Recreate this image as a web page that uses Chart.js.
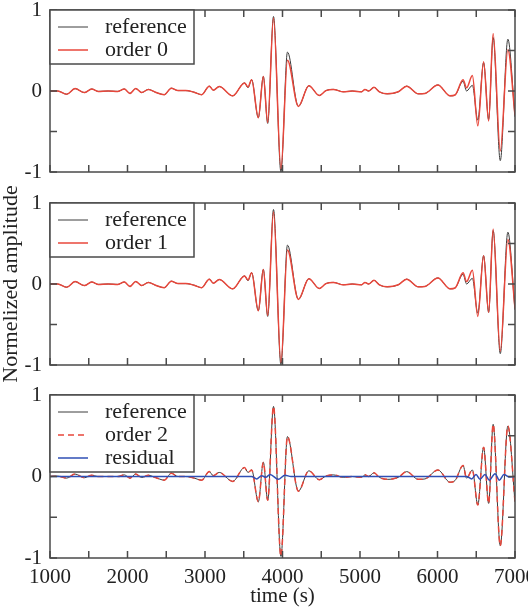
<!DOCTYPE html>
<html>
<head>
<meta charset="utf-8">
<script src="https://cdn.jsdelivr.net/npm/chart.js@4.4.1/dist/chart.umd.min.js"></script>
<style>
  body { margin: 0; background: #fff; }
  .panel { position: absolute; left: 0; width: 528px; }
</style>
</head>
<body>
<div class="panel" style="top:0;height:190px"><canvas id="p1"></canvas></div>
<div class="panel" style="top:380px;height:229px"><canvas id="p3"></canvas></div>
<!-- middle panel is taller so the shared y title fits; its canvas is transparent -->
<div class="panel" style="top:170px;height:230px"><canvas id="p2"></canvas></div>
<script>
// sample times (s) of the traced waveform extrema
const times = [1000, 1100, 1215, 1323, 1443, 1538, 1620, 1750, 1877, 1959,
  2032, 2106, 2183, 2269, 2360, 2475, 2565, 2650, 2750, 2860,
  2957, 3055, 3107, 3184, 3357, 3510, 3555, 3602, 3688, 3753,
  3809, 3884, 3980, 4064, 4205, 4340, 4475, 4560, 4656, 4785,
  4900, 5022, 5064, 5110, 5181, 5250, 5352, 5494, 5602, 5752,
  5838, 6005, 6161, 6226, 6330, 6375, 6450, 6520, 6595, 6660,
  6718, 6810, 6908, 7000];

// panels 1 and 2
const reference = [0, 0, -0.04, 0.03, -0.02, 0.025, -0.005, 0, -0.005, 0.025,
  -0.03, 0.03, -0.02, 0.02, -0.015, -0.045, 0.035, 0.005, 0.005, -0.015,
  -0.045, 0.06, 0.01, 0.055, -0.06, 0.10, 0.04, 0.14, -0.33, 0.18,
  -0.40, 0.92, -1.0, 0.48, -0.19, 0.065, -0.055, 0.005, 0.02, -0.01,
  0, -0.01, 0.02, 0, 0.045, -0.01, -0.035, -0.01, 0.06, -0.035,
  -0.03, 0.075, -0.06, -0.05, 0.12, 0.0, 0.07, -0.36, 0.35, -0.35,
  0.66, -0.86, 0.64, -0.32];

const order0 = [0, 0, -0.04, 0.03, -0.02, 0.025, -0.005, 0, -0.005, 0.025,
  -0.03, 0.03, -0.02, 0.02, -0.015, -0.045, 0.035, 0.005, 0.005, -0.015,
  -0.045, 0.06, 0.01, 0.055, -0.06, 0.10, 0.05, 0.14, -0.33, 0.18,
  -0.39, 0.90, -0.96, 0.38, -0.19, 0.065, -0.055, 0.005, 0.02, -0.01,
  0, -0.01, 0.02, 0, 0.045, -0.01, -0.035, -0.01, 0.06, -0.035,
  -0.03, 0.075, -0.06, -0.05, 0.14, 0.04, 0.19, -0.43, 0.36, -0.37,
  0.71, -0.74, 0.51, -0.30];

const order1 = [0, 0, -0.04, 0.03, -0.02, 0.025, -0.005, 0, -0.005, 0.025,
  -0.03, 0.03, -0.02, 0.02, -0.015, -0.045, 0.035, 0.005, 0.005, -0.015,
  -0.045, 0.06, 0.01, 0.055, -0.06, 0.10, 0.05, 0.14, -0.33, 0.18,
  -0.39, 0.89, -0.97, 0.42, -0.19, 0.065, -0.055, 0.005, 0.02, -0.01,
  0, -0.01, 0.02, 0, 0.045, -0.01, -0.035, -0.01, 0.06, -0.035,
  -0.03, 0.075, -0.06, -0.05, 0.14, 0.03, 0.17, -0.40, 0.35, -0.35,
  0.68, -0.83, 0.55, -0.30];

// panel 3 (order 2 lies on top of the reference)
const reference3 = [0, 0.005, -0.02, 0.03, -0.015, 0.015, 0, 0, 0, 0.02,
  -0.02, 0.03, -0.012, 0.015, -0.012, -0.045, 0.04, 0, 0, -0.02,
  -0.045, 0.06, 0.01, 0.05, -0.06, 0.11, 0.05, 0.08, -0.31, 0.175,
  -0.29, 0.86, -0.98, 0.49, -0.18, 0.07, -0.04, 0.005, 0.02, -0.01,
  0, -0.01, 0.02, 0, 0.045, -0.01, -0.035, -0.01, 0.06, -0.035,
  -0.03, 0.08, -0.07, -0.05, 0.135, -0.02, 0.08, -0.35, 0.36, -0.33,
  0.64, -0.85, 0.62, -0.31];

const order2 = [0, 0.005, -0.02, 0.03, -0.015, 0.015, 0, 0, 0, 0.02,
  -0.02, 0.03, -0.012, 0.015, -0.012, -0.045, 0.04, 0, 0, -0.02,
  -0.045, 0.06, 0.01, 0.05, -0.06, 0.11, 0.05, 0.08, -0.31, 0.175,
  -0.29, 0.86, -0.98, 0.49, -0.18, 0.07, -0.04, 0.005, 0.02, -0.01,
  0, -0.01, 0.02, 0, 0.045, -0.01, -0.035, -0.01, 0.06, -0.035,
  -0.03, 0.08, -0.07, -0.05, 0.135, -0.02, 0.08, -0.35, 0.36, -0.33,
  0.64, -0.85, 0.62, -0.31];

const residualTimes = [1000, 3600, 3667, 3731, 3785, 3839, 3946, 4032, 4110, 6376,
  6441, 6497, 6548, 6613, 6669, 6742, 6798, 6858, 6920, 7000];
const residual = [0, 0, -0.03, 0.01, -0.01, 0.025, -0.035, 0.015, 0, 0,
  -0.03, 0.025, -0.035, 0.025, -0.045, 0.035, -0.045, 0.025, -0.005, 0];

const SERIF = '"Liberation Serif", "Times New Roman", serif';
const RED = '#e8473b', BLACK = '#3c3c3c', BLUE = '#2f4fb5', INK = '#222';

function pts(xs, ys) {
  return xs.map((x, i) => ({ x: x, y: ys[i] }));
}

// frame, inward ticks on all four sides, and the boxed legend
const frame = {
  id: 'frame',
  afterDraw(chart) {
    const ctx = chart.ctx, a = chart.chartArea;
    const x = chart.scales.x, y = chart.scales.y;
    ctx.save();
    ctx.strokeStyle = '#4a4a4a';
    ctx.lineWidth = 1.5;
    ctx.beginPath();
    x.ticks.forEach(t => {
      const px = x.getPixelForValue(t.value);
      ctx.moveTo(px, a.bottom); ctx.lineTo(px, a.bottom - 7);
      ctx.moveTo(px, a.top); ctx.lineTo(px, a.top + 7);
    });
    y.ticks.forEach(t => {
      const py = y.getPixelForValue(t.value);
      ctx.moveTo(a.left, py); ctx.lineTo(a.left + 7, py);
      ctx.moveTo(a.right, py); ctx.lineTo(a.right - 7, py);
    });
    ctx.stroke();
    ctx.strokeRect(a.left, a.top, a.right - a.left, a.bottom - a.top);

    const sets = chart.data.datasets;
    const h = 8 + sets.length * 23;
    ctx.fillStyle = '#fff';
    ctx.fillRect(a.left, a.top, 144, h);
    ctx.strokeRect(a.left, a.top, 144, h);
    ctx.font = '22px ' + SERIF;
    ctx.textBaseline = 'middle';
    sets.forEach((ds, i) => {
      const ly = a.top + 17 + i * 23;
      ctx.strokeStyle = ds.borderColor;
      ctx.lineWidth = ds.borderWidth;
      ctx.setLineDash(ds.borderDash || []);
      ctx.beginPath();
      ctx.moveTo(a.left + 8, ly);
      ctx.lineTo(a.left + 38, ly);
      ctx.stroke();
      ctx.setLineDash([]);
      ctx.fillStyle = INK;
      ctx.fillText(ds.label, a.left + 55, ly);
    });
    ctx.restore();
  }
};

function panel(id, datasets, pad, last, yTitle) {
  const font = { family: SERIF, size: 21 };
  return new Chart(document.getElementById(id), {
    type: 'line',
    data: { datasets: datasets },
    options: {
      responsive: true,
      maintainAspectRatio: false,
      animation: false,
      layout: { padding: pad },
      elements: {
        point: { radius: 0 },
        line: { cubicInterpolationMode: 'monotone' }
      },
      plugins: { legend: { display: false }, tooltip: { enabled: false } },
      scales: {
        x: {
          type: 'linear', min: 1000, max: 7000,
          grid: { display: false, drawTicks: false },
          border: { display: false },
          ticks: {
            display: last, stepSize: 500, autoSkip: false, maxRotation: 0,
            padding: 7, font: font, color: INK,
            callback: v => (v % 1000 === 0 ? String(v) : '')
          },
          title: { display: last, text: 'time (s)', font: font, color: INK, padding: 0 },
          afterFit: s => { s.height = last ? 51 : 0; s.paddingLeft = 0; s.paddingRight = 0; }
        },
        y: {
          min: -1, max: 1,
          grid: { display: false, drawTicks: false },
          border: { display: false },
          ticks: {
            stepSize: 0.5, autoSkip: false, padding: 8, font: font, color: INK,
            callback: v => (Number.isInteger(v) ? String(v) : '')
          },
          title: {
            display: !!yTitle, text: yTitle || '', color: INK, padding: 0,
            font: { family: SERIF, size: 22, lineHeight: 1 }
          },
          afterFit: s => { s.width = 50; s.paddingTop = 0; s.paddingBottom = 0; }
        }
      }
    },
    plugins: [frame]
  });
}

panel('p1', [
  { label: 'reference', data: pts(times, reference), borderColor: BLACK, borderWidth: 1, order: 2 },
  { label: 'order 0', data: pts(times, order0), borderColor: RED, borderWidth: 1.5, order: 1 }
], { top: 10, right: 13, bottom: 18, left: 0 }, false);

panel('p2', [
  { label: 'reference', data: pts(times, reference), borderColor: BLACK, borderWidth: 1, order: 2 },
  { label: 'order 1', data: pts(times, order1), borderColor: RED, borderWidth: 1.5, order: 1 }
], { top: 33, right: 13, bottom: 35, left: 0 }, false, 'Normelized amplitude');

panel('p3', [
  { label: 'reference', data: pts(times, reference3), borderColor: BLACK, borderWidth: 1, order: 3 },
  { label: 'order 2', data: pts(times, order2), borderColor: RED, borderWidth: 1.5, borderDash: [6, 4], order: 2 },
  { label: 'residual', data: pts(residualTimes, residual), borderColor: BLUE, borderWidth: 1.5, order: 1 }
], { top: 15, right: 13, bottom: 0, left: 0 }, true);
</script>
</body>
</html>
